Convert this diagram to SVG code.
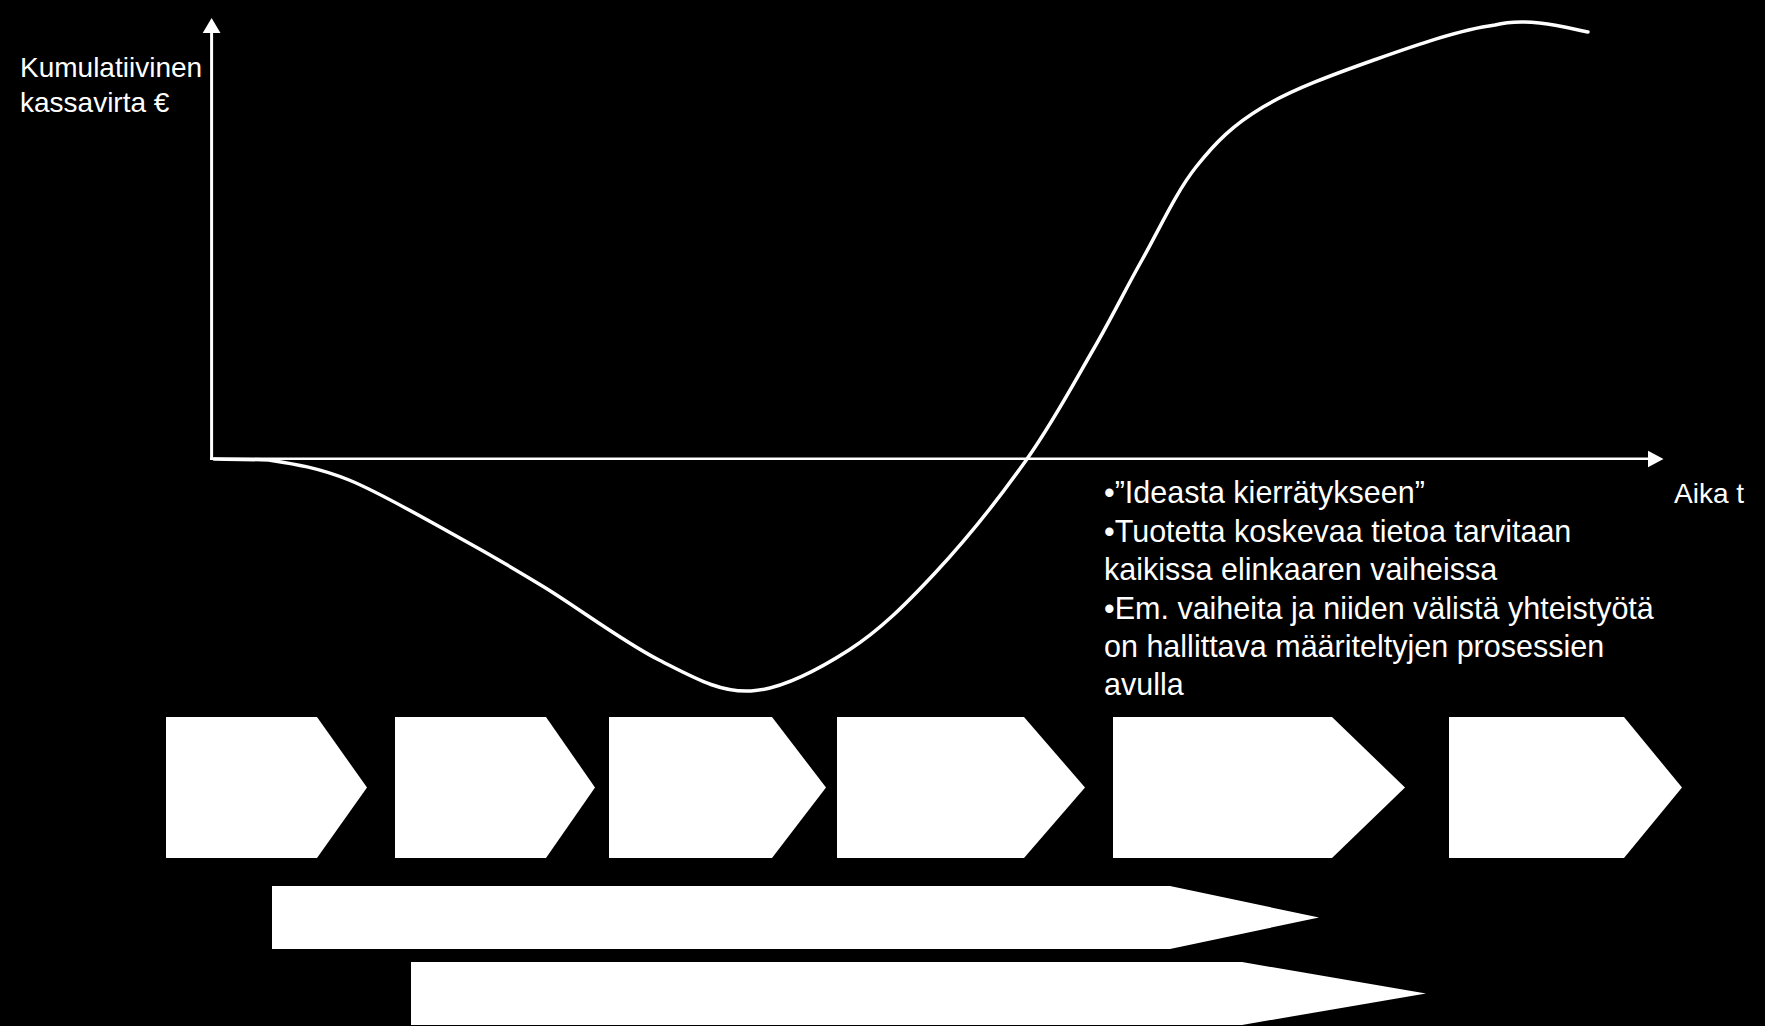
<svg xmlns="http://www.w3.org/2000/svg" width="1765" height="1026" viewBox="0 0 1765 1026">
<defs>
<style>
.bg{fill:#000}
.shape{fill:#fff;stroke:none}
.axis{stroke:#fff;fill:none}
.curve{stroke:#fff;fill:none;stroke-width:3.5;stroke-linecap:round;stroke-linejoin:round}
.t{fill:#fff;font-family:"Liberation Sans",Arial,sans-serif}
.lbl{font-size:28px}
.body{font-size:30.5px}
</style>
</defs>
<rect class="bg" x="0" y="0" width="1765" height="1026"/>
<g id="connectors">
<line class="axis" x1="211.6" y1="459" x2="211.6" y2="32" stroke-width="3"/>
<polygon class="shape" points="211.6,18 220.5,33 202.7,33"/>
<line class="axis" x1="210" y1="458.7" x2="1649" y2="458.7" stroke-width="2.5"/>
<polygon class="shape" points="1663.5,459 1648,450.8 1648,467.2"/>
<path class="curve" d="M214,459 C223,459.2 246,459.2 269,460 C291.5,463.5 317.5,467.2 349,480 C380.5,492.8 425.5,519.2 458,537 C490.5,554.8 510.5,566.5 544,587 C577.5,607.5 624.5,642.7 659,660 C693.5,677.3 719.3,692.7 751,691 C782.7,689.3 818.3,669.7 849,650 C879.7,630.3 905.3,604.8 935,573 C964.7,541.2 1000.7,496.2 1027,459 C1053.3,421.8 1073.8,383.2 1093,350 C1112.2,316.8 1124.8,290.5 1142,260 C1159.2,229.5 1175.8,192.5 1196,167 C1216.2,141.5 1233.3,124.8 1263,107 C1292.7,89.2 1335.3,73.7 1374,60 C1412.7,46.3 1459.3,29.7 1495,25 C1528,16 1572,29 1588,32"/>
</g>
<g id="axis-labels">
<text class="t lbl" x="20" y="77">Kumulatiivinen</text>
<text class="t lbl" x="20" y="112">kassavirta €</text>
<text class="t lbl" x="1674" y="503">Aika t</text>
</g>
<g id="notes">
<text class="t body" x="1104" y="503">•”Ideasta kierrätykseen”</text>
<text class="t body" x="1104" y="541.7">•Tuotetta koskevaa tietoa tarvitaan</text>
<text class="t body" x="1104" y="580.3">kaikissa elinkaaren vaiheissa</text>
<text class="t body" x="1104" y="618.7">•Em. vaiheita ja niiden välistä yhteistyötä</text>
<text class="t body" x="1104" y="657">on hallittava määriteltyjen prosessien</text>
<text class="t body" x="1104" y="695.3">avulla</text>
</g>
<g id="phase1"><polygon class="shape" points="166,717 317,717 367,787.5 317,858 166,858"/></g>
<g id="phase2"><polygon class="shape" points="395,717 546,717 595,787.5 546,858 395,858"/></g>
<g id="phase3"><polygon class="shape" points="609,717 772,717 826,787.5 772,858 609,858"/></g>
<g id="phase4"><polygon class="shape" points="837,717 1024,717 1085,787.5 1024,858 837,858"/></g>
<g id="phase5"><polygon class="shape" points="1113,717 1332,717 1405,787.5 1332,858 1113,858"/></g>
<g id="phase6"><polygon class="shape" points="1449,717 1624,717 1682,787.5 1624,858 1449,858"/></g>
<g id="bar1"><polygon class="shape" points="272,886 1170,886 1319,917.5 1170,949 272,949"/></g>
<g id="bar2"><polygon class="shape" points="411,962 1242,962 1426,993.5 1242,1025 411,1025"/></g>
</svg>
